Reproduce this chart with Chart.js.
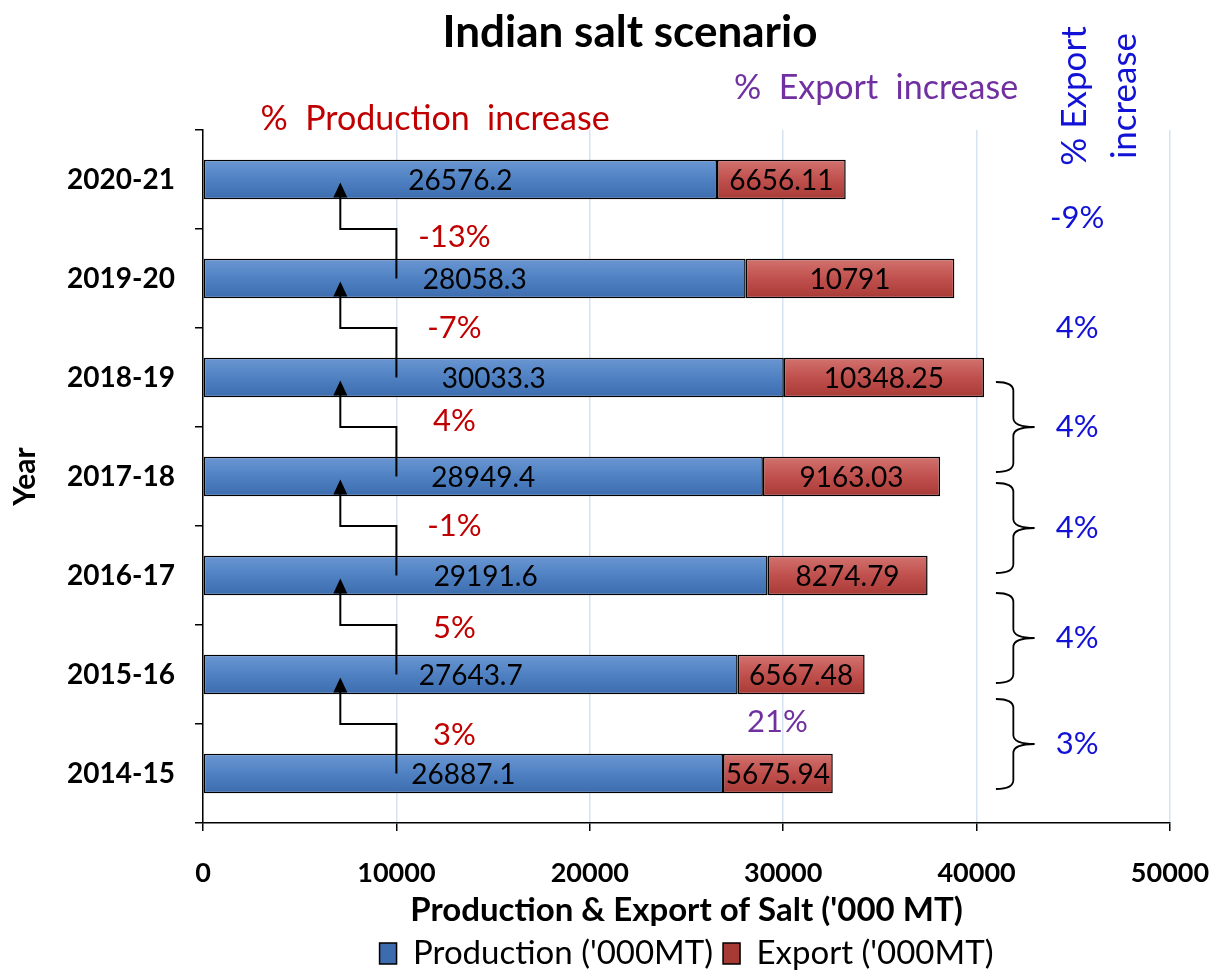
<!DOCTYPE html>
<html>
<head>
<meta charset="utf-8">
<title>Indian salt scenario</title>
<script src="https://cdn.jsdelivr.net/npm/chart.js@4.4.1/dist/chart.umd.min.js"></script>
<style>
  html, body { margin: 0; padding: 0; background: #fff; }
</style>
</head>
<body>
<canvas id="saltChart" width="1221" height="980"></canvas>
<script>
const years = ['2014-15', '2015-16', '2016-17', '2017-18', '2018-19', '2019-20', '2020-21'];
const production = [26887.1, 27643.7, 29191.6, 28949.4, 30033.3, 28058.3, 26576.2];
const exports = [5675.94, 6567.48, 8274.79, 9163.03, 10348.25, 10791, 6656.11];
// change from year i to year i+1
const prodIncrease = ['3%', '5%', '-1%', '4%', '-7%', '-13%'];
const exportIncrease = ['3%', '4%', '4%', '4%', '4%', '-9%'];
const exportTotalIncrease = '21%';
const xTicks = [0, 10000, 20000, 30000, 40000, 50000];

const FONT = 'Lato, "Open Sans", sans-serif';
const BAR_FRAC = 0.4;
const RED = '#c00000';
const BLUE_TXT = '#1212d6';
const PURPLE = '#7030a0';
// small hand nudges (px) so the % labels sit where they do in the original
const prodNudge = [11, 3, 0, -6, 0, 8];
const expNudge = [20, 13, 2, 0, 0, -11];

Chart.defaults.font.family = FONT;
Chart.defaults.color = '#000';

// vertical gradient per bar, built from the category scale
function barFill(stops, fallback) {
  return (c) => {
    const chart = c.chart;
    const y = chart.scales.y;
    if (c.type !== 'data' || !y || !chart.chartArea) return fallback;
    const cy = y.getPixelForValue(c.dataIndex);
    const half = Math.abs(y.getPixelForValue(1) - y.getPixelForValue(0)) * BAR_FRAC / 2;
    const g = chart.ctx.createLinearGradient(0, cy - half, 0, cy + half);
    stops.forEach(([p, col]) => g.addColorStop(p, col));
    return g;
  };
}

function drawBrace(ctx, xEnd, xSpine, xTip, yTop, yBot) {
  const yMid = (yTop + yBot) / 2;
  const r = 9;
  ctx.beginPath();
  ctx.moveTo(xEnd, yTop);
  ctx.quadraticCurveTo(xSpine, yTop, xSpine, yTop + r);
  ctx.lineTo(xSpine, yMid - r);
  ctx.quadraticCurveTo(xSpine, yMid, xTip, yMid);
  ctx.moveTo(xTip, yMid);
  ctx.quadraticCurveTo(xSpine, yMid, xSpine, yMid + r);
  ctx.lineTo(xSpine, yBot - r);
  ctx.quadraticCurveTo(xSpine, yBot, xEnd, yBot);
  ctx.stroke();
}

const annotations = {
  id: 'annotations',
  afterDatasetsDraw(chart) {
    const { ctx, chartArea, scales: { x, y } } = chart;
    ctx.save();

    // elbow arrows from one year's bar up to the next
    ctx.strokeStyle = '#000';
    ctx.fillStyle = '#000';
    ctx.lineWidth = 2;
    for (let i = 0; i < years.length - 1; i++) {
      const yLow = y.getPixelForValue(i);
      const yUp = y.getPixelForValue(i + 1);
      const yMid = (yLow + yUp) / 2;
      const xs = x.getPixelForValue(10000);
      const xa = x.getPixelForValue(7100);
      const tip = yUp + 3;
      ctx.beginPath();
      ctx.moveTo(xs, yLow);
      ctx.lineTo(xs, yMid);
      ctx.lineTo(xa, yMid);
      ctx.lineTo(xa, tip + 14);
      ctx.stroke();
      ctx.beginPath();
      ctx.moveTo(xa, tip);
      ctx.lineTo(xa - 7, tip + 15);
      ctx.lineTo(xa + 7, tip + 15);
      ctx.closePath();
      ctx.fill();
    }

    // value labels inside the bars
    ctx.font = '28px ' + FONT;
    ctx.fillStyle = '#000';
    ctx.textAlign = 'center';
    ctx.textBaseline = 'middle';
    chart.data.datasets.forEach((ds, di) => {
      chart.getDatasetMeta(di).data.forEach((bar, i) => {
        ctx.fillText(String(ds.data[i]), (bar.x + bar.base) / 2, bar.y + 1);
      });
    });

    // % change labels
    ctx.font = '31px ' + FONT;
    for (let i = 0; i < years.length - 1; i++) {
      const yb = (y.getPixelForValue(i) + y.getPixelForValue(i + 1)) / 2;
      ctx.fillStyle = RED;
      ctx.fillText(prodIncrease[i], x.getPixelForValue(13000), yb + prodNudge[i]);
      ctx.fillStyle = BLUE_TXT;
      ctx.fillText(exportIncrease[i], x.getPixelForValue(45200), yb + expNudge[i]);
      if (i < 4) {
        const yc = yb + expNudge[i];
        ctx.strokeStyle = '#000';
        ctx.lineWidth = 1.8;
        drawBrace(ctx, x.getPixelForValue(41000), x.getPixelForValue(41900),
          x.getPixelForValue(43000), yc - 45, yc + 45);
      }
    }
    ctx.fillStyle = PURPLE;
    const y01 = (y.getPixelForValue(0) + y.getPixelForValue(1)) / 2;
    ctx.fillText(exportTotalIncrease, x.getPixelForValue(29700), y01 - 2);

    // headings above the plot
    ctx.font = 'bold 44px ' + FONT;
    ctx.fillStyle = '#000';
    ctx.fillText('Indian salt scenario', 630, 33);

    ctx.font = '34px ' + FONT;
    ctx.fillStyle = RED;
    ctx.fillText('%  Production  increase', x.getPixelForValue(12000), chartArea.top - 11);
    ctx.fillStyle = PURPLE;
    ctx.fillText('%  Export  increase', x.getPixelForValue(34800), chartArea.top - 42);

    ctx.font = '35px ' + FONT;
    ctx.fillStyle = BLUE_TXT;
    ctx.translate(1075, 96);
    ctx.rotate(-Math.PI / 2);
    ctx.fillText('% Export', 0, 0);
    ctx.fillText('increase', 0, 50);
    ctx.restore();
  }
};

new Chart(document.getElementById('saltChart'), {
  type: 'bar',
  data: {
    labels: years,
    datasets: [
      {
        label: "Production ('000MT)",
        data: production,
        backgroundColor: barFill([[0, '#6b97d3'], [0.5, '#4f81c2'], [1, '#3c6cad']], '#4f81bd'),
        borderColor: '#000',
        borderWidth: 1.5,
        borderSkipped: false,
        barPercentage: BAR_FRAC,
        categoryPercentage: 1
      },
      {
        label: "Export ('000MT)",
        data: exports,
        backgroundColor: barFill([[0, '#d2736f'], [0.5, '#c0504d'], [1, '#a83a36']], '#c0504d'),
        borderColor: '#000',
        borderWidth: 1.5,
        borderSkipped: false,
        barPercentage: BAR_FRAC,
        categoryPercentage: 1
      }
    ]
  },
  options: {
    indexAxis: 'y',
    responsive: false,
    animation: false,
    devicePixelRatio: 1,
    layout: { padding: { left: 0, right: 51, top: 130, bottom: 0 } },
    plugins: {
      title: { display: false },
      legend: {
        position: 'bottom',
        fullSize: false,
        labels: {
          color: '#000',
          font: { size: 33 },
          boxWidth: 17,
          boxHeight: 21,
          padding: 10
        }
      },
      tooltip: { enabled: false }
    },
    scales: {
      x: {
        stacked: true,
        min: 0,
        max: 50000,
        afterBuildTicks: (s) => { s.ticks = xTicks.map(v => ({ value: v })); },
        afterFit: (s) => { s.paddingLeft = 0; s.paddingRight = 0; s.height = 104; },
        ticks: {
          color: '#000',
          font: { size: 27, weight: 'bold' },
          padding: 26,
          callback: (v) => String(v)
        },
        grid: { color: '#d5e2f2', lineWidth: 1.5, tickColor: '#000', tickLength: 8, tickWidth: 1.5 },
        border: { color: '#000', width: 1.5 },
        title: {
          display: true,
          text: "Production & Export of Salt ('000 MT)",
          color: '#000',
          font: { size: 33, weight: 'bold' },
          padding: { top: 0, bottom: -3 }
        }
      },
      y: {
        stacked: true,
        reverse: true,
        afterFit: (s) => { s.width = 203; s.paddingTop = 0; s.paddingBottom = 0; },
        ticks: { color: '#000', font: { size: 28, weight: 'bold' }, padding: 20 },
        grid: { offset: true, drawOnChartArea: false, color: '#000', lineWidth: 1.5, tickLength: 8 },
        border: { color: '#000', width: 1.5 },
        title: {
          display: true,
          text: 'Year',
          color: '#000',
          font: { size: 30, weight: 'bold' },
          padding: { top: 7, bottom: 0 }
        }
      }
    }
  },
  plugins: [annotations]
});
</script>
</body>
</html>
